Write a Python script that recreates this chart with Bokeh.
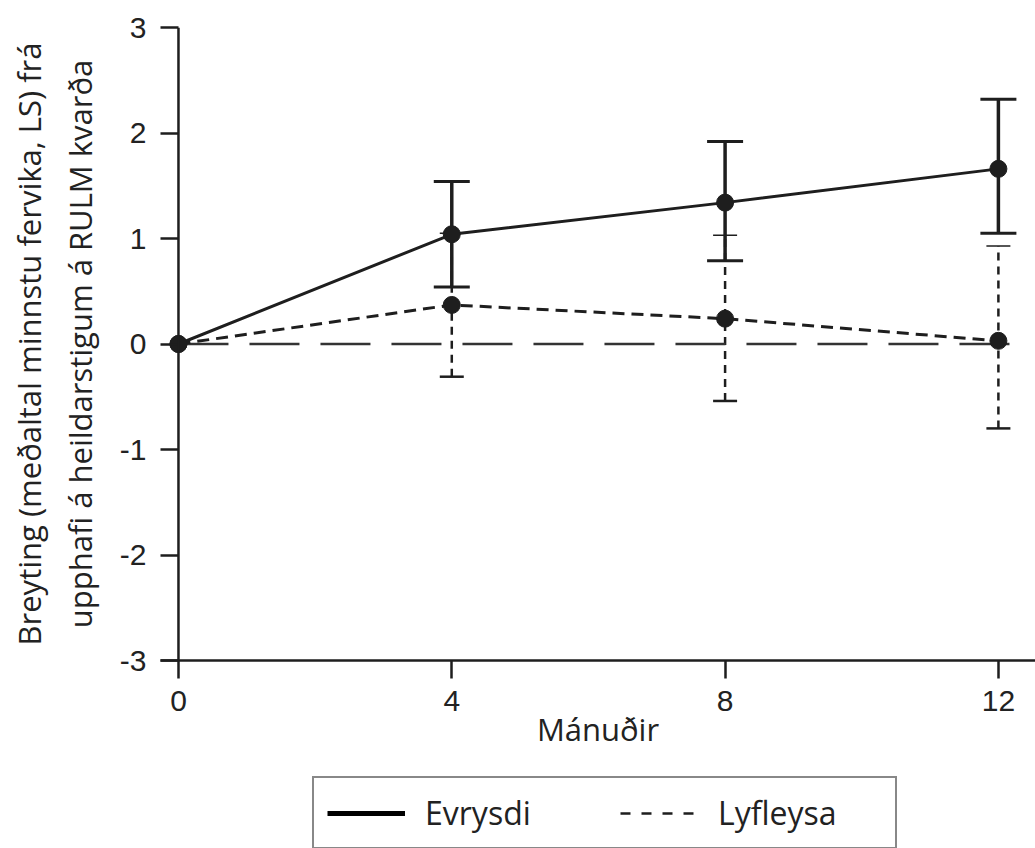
from bokeh.plotting import figure
from bokeh.layouts import column
from bokeh.models import Range1d, FixedTicker, Legend, LegendItem, ColumnDataSource, Whisker, TeeHead, Span
from bokeh.embed import file_html
from bokeh.resources import INLINE

# ---- data ----
months = [0, 4, 8, 12]
evrysdi_mean = [0.0, 1.04, 1.34, 1.66]
lyfleysa_mean = [0.0, 0.37, 0.24, 0.03]

err_months = [4, 8, 12]
evrysdi_lower = [0.54, 0.79, 1.05]
evrysdi_upper = [1.54, 1.92, 2.32]
lyfleysa_lower = [-0.31, -0.54, -0.80]
lyfleysa_upper = [1.05, 1.03, 0.93]

zero_x = [0, 12.28]
zero_y = [0, 0]

x_ticks = [0, 4, 8, 12]
y_ticks = [-3, -2, -1, 0, 1, 2, 3]
y_tick_labels = ["-3", "-2", "-1", "0", "1", "2", "3"]

y_title = "Breyting (meðaltal minnstu fervika, LS) frá\nupphafi á heildarstigum á RULM kvarða"
x_title = "Mánuðir"
series_names = ["Evrysdi", "Lyfleysa"]

INK = "#1e1e1e"
TITLE_FONT = "Open Sans"

p = figure(width=1035, height=770, output_backend="svg", toolbar_location=None,
           x_range=Range1d(-0.263, 12.543), y_range=Range1d(-3, 3),
           min_border_left=160, min_border_right=0, min_border_top=27, min_border_bottom=110)
p.outline_line_color = None
p.grid.visible = False
p.background_fill_color = "white"
p.border_fill_color = "white"

# zero reference line
p.line(zero_x, zero_y, line_color="#333333", line_width=2.5, line_dash="50 21")

# y axis line at month 0
p.add_layout(Span(location=0, dimension="height", line_color=INK, line_width=2.5))

# Lyfleysa
ly_src = ColumnDataSource(dict(x=err_months, lo=lyfleysa_lower, hi=lyfleysa_upper))
ly_w = Whisker(source=ly_src, base="x", lower="lo", upper="hi", dimension="height",
               line_color=INK, line_width=2.5, line_dash="8 6",
               lower_head=TeeHead(size=24, line_width=2.5, line_color=INK),
               upper_head=TeeHead(size=24, line_width=1.5, line_color=INK))
p.add_layout(ly_w)
p.line(months, lyfleysa_mean, line_color=INK, line_width=3, line_dash="12 7")
p.scatter(months, lyfleysa_mean, size=17, fill_color=INK, line_color=INK)

# Evrysdi
ev_src = ColumnDataSource(dict(x=err_months, lo=evrysdi_lower, hi=evrysdi_upper))
ev_w = Whisker(source=ev_src, base="x", lower="lo", upper="hi", dimension="height",
               line_color=INK, line_width=3.5,
               lower_head=TeeHead(size=36, line_width=3, line_color=INK),
               upper_head=TeeHead(size=36, line_width=3, line_color=INK))
p.add_layout(ev_w)
p.line(months, evrysdi_mean, line_color=INK, line_width=3)
p.scatter(months, evrysdi_mean, size=17, fill_color=INK, line_color=INK)

# axes
for ax in (p.xaxis, p.yaxis):
    ax.axis_line_color = INK
    ax.axis_line_width = 2.5
    ax.major_tick_line_color = INK
    ax.major_tick_line_width = 2.5
    ax.minor_tick_line_color = None
    ax.major_label_text_font = "Liberation Sans"
    ax.major_label_text_font_size = "30px"
    ax.major_label_text_color = "#222222"
    ax.axis_label_text_font = TITLE_FONT
    ax.axis_label_text_font_size = "31px"
    ax.axis_label_text_font_style = "normal"
    ax.axis_label_text_color = "#222222"
p.xaxis.major_tick_in = 0
p.xaxis.major_tick_out = 18
p.xaxis.major_label_standoff = 12
p.yaxis.axis_line_color = None
p.yaxis.major_tick_in = 18
p.yaxis.major_tick_out = 0
p.yaxis.major_label_standoff = 14
p.xaxis.ticker = FixedTicker(ticks=x_ticks)
p.yaxis.ticker = FixedTicker(ticks=y_ticks)
p.yaxis.major_label_overrides = {t: s for t, s in zip(y_ticks, y_tick_labels)}
p.xaxis.axis_label = x_title
p.yaxis.axis_label = y_title
p.xaxis.axis_label_standoff = -6
p.yaxis.axis_label_standoff = 16

# legend figure (data kept outside its visible range; only the legend shows)
lg = figure(width=1035, height=78, output_backend="svg", toolbar_location=None,
            x_range=Range1d(100, 101), y_range=Range1d(100, 101),
            x_axis_type=None, y_axis_type=None,
            min_border_left=0, min_border_right=0, min_border_top=0, min_border_bottom=0)
lg.outline_line_color = None
lg.grid.visible = False
ev_dummy = lg.line(months, evrysdi_mean, line_color="black", line_width=5)
ly_dummy = lg.line(months, lyfleysa_mean, line_color=INK, line_width=2.5, line_dash="10 11")
legend = Legend(items=[LegendItem(label=series_names[0], renderers=[ev_dummy]),
                       LegendItem(label=series_names[1], renderers=[ly_dummy])],
                orientation="horizontal", location=(152, -1), margin=0,
                padding=13, spacing=31, glyph_width=78, glyph_height=30,
                label_standoff=20, label_width=164,
                label_text_font=TITLE_FONT, label_text_font_size="32px",
                label_text_color="#222222",
                border_line_color="#111111", border_line_width=2.5,
                background_fill_color="white", background_fill_alpha=1.0)
lg.add_layout(legend, "center")

layout = column(p, lg, spacing=0)
open("out.html", "w").write(file_html(layout, INLINE))
